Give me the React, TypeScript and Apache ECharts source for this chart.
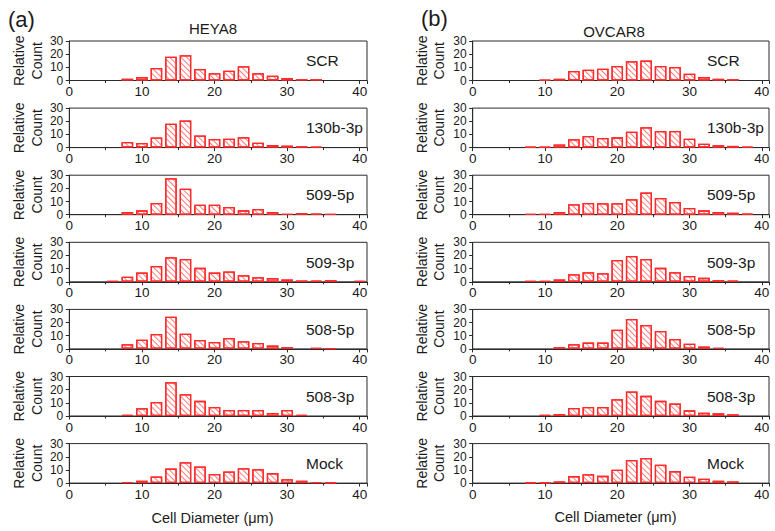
import React, { useEffect, useRef } from "react";
import * as echarts from "echarts";

// bin centres (µm)
const binCenters = [6, 8, 10, 12, 14, 16, 18, 20, 22, 24, 26, 28, 30, 32, 34, 36, 38, 40];
const panelNames = ["SCR", "130b-3p", "509-5p", "509-3p", "508-5p", "508-3p", "Mock"];
const xTicks = [0, 10, 20, 30, 40];
const yTicks = [0, 10, 20, 30];

// HEYA8 relative counts per bin
const heyaSCR = [0, 1.3, 2.6, 9.5, 18, 19.2, 8.7, 5.6, 7.4, 10.8, 5.6, 3.6, 1.8, 1, 1, 0, 0, 0];
const heya130b = [0, 4.2, 3.5, 7.7, 18.1, 20.6, 9.2, 6.5, 6.7, 7.9, 3.7, 2, 1.5, 1, 0.8, 0, 0, 0];
const heya5095 = [0, 2, 3.3, 8.9, 27.7, 19.8, 7.6, 7.6, 5.9, 3.3, 4.3, 2, 0.5, 1.3, 0.8, 0.5, 0, 0];
const heya5093 = [0.5, 3.8, 7, 12, 18.6, 17.4, 10.6, 7, 7.8, 5, 3.5, 2.8, 1.8, 1, 0.8, 1.3, 0, 0.5];
const heya5085 = [0, 3.5, 7, 11.3, 24.4, 11.6, 6.8, 5.3, 8.3, 5.8, 4.5, 2.5, 1.3, 0, 0.8, 0.5, 0, 0];
const heya5083 = [0, 0.8, 5.9, 10.7, 25.7, 16.5, 11.5, 6.9, 4.6, 4.6, 4.6, 2.3, 4.6, 0.8, 0, 0, 0, 0];
const heyaMock = [0, 0.8, 1.8, 5, 11, 15.9, 12.6, 7, 8.8, 11.3, 10.6, 7.6, 3, 1.8, 0.8, 0.5, 0, 0];

// OVCAR8 relative counts per bin
const ovSCR = [0, 0, 0.5, 1.3, 7.2, 8.2, 9, 11, 14.6, 15.1, 11, 10.3, 5.1, 2.6, 1.3, 1, 0, 0];
const ov130b = [0, 0.5, 0.5, 2.3, 6.3, 8.8, 7.3, 7.8, 12.1, 15.4, 12.6, 12.6, 6.8, 3, 1.8, 1.3, 0.8, 0];
const ov5095 = [0, 0.5, 0.5, 2, 7.9, 8.9, 8.7, 8.7, 11.7, 16.8, 12.7, 9.7, 5.1, 3.3, 2, 1.5, 0.8, 0];
const ov5093 = [0, 0.5, 0.5, 1.8, 5.8, 7.3, 6.5, 16.6, 19.6, 17.4, 10.6, 7.3, 4.5, 3, 1.3, 0.8, 0, 0];
const ov5085 = [0, 0, 0, 1.3, 3.5, 4.8, 4.8, 14.6, 22.7, 18.1, 13.6, 7.6, 4, 1.8, 0.8, 0, 0, 0];
const ov5083 = [0, 0, 0.8, 1.5, 6.1, 6.9, 6.9, 12.7, 18.6, 15.3, 11.5, 9.4, 4.3, 2.5, 2, 1.3, 0, 0];
const ovMock = [0, 0.5, 0.5, 1.3, 5.3, 6.8, 5.5, 10.1, 17.6, 19.1, 13.9, 9.1, 4.8, 3.3, 1.8, 1.3, 0, 0];

const heyaSeries = [heyaSCR, heya130b, heya5095, heya5093, heya5085, heya5083, heyaMock];
const ovSeries = [ovSCR, ov130b, ov5095, ov5093, ov5085, ov5083, ovMock];

const FONT = "Liberation Sans, Arial, sans-serif";
const RED = "#ff2b2b";
const AXIS = "#2a2a2a";

export default function App() {
  const ref = useRef<HTMLDivElement>(null);
  useEffect(() => {
    if (!ref.current) return;
    const chart = echarts.init(ref.current, null, { renderer: "svg" });

    const cols = [
      { left: 69.3, width: 297.7, data: heyaSeries, labelX: 306, relX: 18.5, cntX: 36.5 },
      { left: 472.7, width: 296.3, data: ovSeries, labelX: 707, relX: 421.5, cntX: 438.5 },
    ];
    const grids: any[] = [];
    const xAxes: any[] = [];
    const yAxes: any[] = [];
    const series: any[] = [];
    const graphics: any[] = [];

    cols.forEach((c, ci) => {
      c.data.forEach((vals, pi) => {
        const idx = ci * 7 + pi;
        const top = 41 + 67.1 * pi;
        const h = 39.5;
        grids.push({
          left: c.left,
          top,
          width: c.width,
          height: h,
          show: true,
          borderColor: AXIS,
          borderWidth: 1,
          backgroundColor: "transparent",
        });
        xAxes.push({
          type: "value",
          gridIndex: idx,
          min: 0,
          max: 41,
          interval: 10,
          axisLine: { onZero: false, lineStyle: { color: AXIS, width: 1 } },
          axisTick: { show: true, length: 3.5, lineStyle: { color: AXIS } },
          minorTick: { show: true, splitNumber: 2, length: 2.5, lineStyle: { color: AXIS } },
          splitLine: { show: false },
          axisLabel: {
            margin: 4,
            fontSize: 13.5,
            fontFamily: FONT,
            color: "#1a1a1a",
            formatter: (v: number) => (xTicks.includes(v) ? String(v) : ""),
          },
        });
        yAxes.push({
          type: "value",
          gridIndex: idx,
          min: 0,
          max: 30,
          interval: 10,
          axisLine: { show: true, lineStyle: { color: AXIS, width: 1 } },
          axisTick: { show: true, length: 3.5, lineStyle: { color: AXIS } },
          splitLine: { show: false },
          axisLabel: {
            margin: 6,
            fontSize: 12,
            fontFamily: FONT,
            color: "#1a1a1a",
            lineHeight: 11,
            showMinLabel: true,
            showMaxLabel: true,
            hideOverlap: false,
            formatter: (v: number) => (yTicks.includes(v) ? String(v) : ""),
          },
        });
        series.push({
          type: "bar",
          xAxisIndex: idx,
          yAxisIndex: idx,
          barWidth: 11.6,
          data: binCenters
            .map((x, k) => [x, vals[k]])
            .filter((d) => d[1] > 0),
          itemStyle: {
            color: "#ffffff",
            borderColor: RED,
            borderWidth: 1.3,
            decal: {
              symbol: "rect",
              symbolSize: 1,
              color: "rgba(255,80,80,0.75)",
              dashArrayX: [1, 0],
              dashArrayY: [1, 2.3],
              rotation: Math.PI / 4,
            },
          },
        });
        graphics.push({
          type: "text",
          x: c.labelX,
          y: top + h / 2,
          style: {
            text: panelNames[pi],
            font: `15.5px ${FONT}`,
            fill: "#1a1a1a",
            textAlign: "left",
            textVerticalAlign: "middle",
          },
        });
        graphics.push({
          type: "text",
          x: c.relX,
          y: top + h / 2,
          rotation: Math.PI / 2,
          style: {
            text: "Relative",
            font: `14px ${FONT}`,
            fill: "#1a1a1a",
            textAlign: "center",
            textVerticalAlign: "middle",
          },
        });
        graphics.push({
          type: "text",
          x: c.cntX,
          y: top + h / 2,
          rotation: Math.PI / 2,
          style: {
            text: "Count",
            font: `14px ${FONT}`,
            fill: "#1a1a1a",
            textAlign: "center",
            textVerticalAlign: "middle",
          },
        });
      });
    });

    const headers = [
      { text: "(a)", x: 8, y: 19.5, size: 22, align: "left" },
      { text: "HEYA8", x: 213, y: 28.5, size: 15, align: "center" },
      { text: "(b)", x: 421, y: 18.5, size: 22, align: "left" },
      { text: "OVCAR8", x: 614, y: 31, size: 15, align: "center" },
      { text: "Cell Diameter (\u03bcm)", x: 212.5, y: 518, size: 14.5, align: "center" },
      { text: "Cell Diameter (\u03bcm)", x: 615.5, y: 517, size: 14.5, align: "center" },
    ];
    headers.forEach((t) =>
      graphics.push({
        type: "text",
        x: t.x,
        y: t.y,
        style: {
          text: t.text,
          font: `${t.size}px ${FONT}`,
          fill: "#1a1a1a",
          textAlign: t.align,
          textVerticalAlign: "middle",
        },
      })
    );

    chart.setOption({
      animation: false,
      backgroundColor: "#ffffff",
      grid: grids,
      xAxis: xAxes,
      yAxis: yAxes,
      series,
      graphic: graphics,
    });
    return () => chart.dispose();
  }, []);
  return (
    <div
      ref={ref}
      style={{ position: "absolute", left: 0, top: 0, width: 775, height: 531 }}
    />
  );
}
